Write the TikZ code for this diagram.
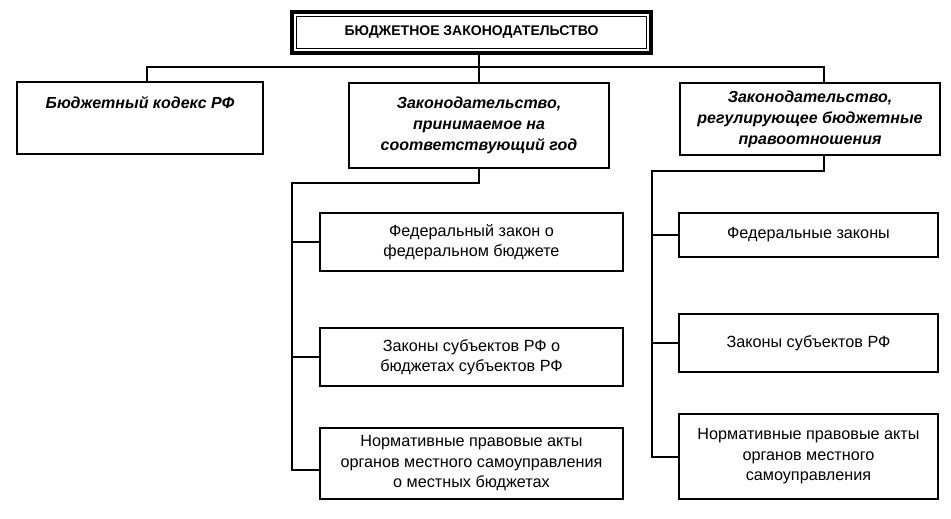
\documentclass[tikz,border=0pt]{standalone}
\usepackage{fontspec}
\setmainfont{Liberation Sans}
\usetikzlibrary{positioning}

\begin{document}
\begin{tikzpicture}[
    x=1pt, y=-1pt,
    box/.style={draw, line width=1.6pt, align=center, inner sep=0pt, font=\fontsize{16.2}{20.5}\selectfont},
    headbox/.style={box, font=\fontsize{16}{21}\selectfont\bfseries\itshape},
    link/.style={line width=1.3pt}
]
\useasboundingbox (0,0) rectangle (951,519);

% Top level
\node[draw, line width=4pt, minimum width=359pt, minimum height=41pt, font=\fontsize{14}{16}\selectfont\bfseries] (title) at (471.5,32.5) {БЮДЖЕТНОЕ ЗАКОНОДАТЕЛЬСТВО};
\draw[line width=1.2pt] ([shift={(6.5,6.5)}]title.north west) rectangle ([shift={(-6.5,-6.5)}]title.south east);

% Second level
\node[headbox, minimum width=246pt, text height=27pt, text depth=45pt] (b1) at (140,118) {Бюджетный кодекс РФ};
\node[headbox, minimum width=260pt, minimum height=85pt] (b2) at (479,125.5) {Законодательство,\\ принимаемое на\\ соответствующий год};
\node[headbox, minimum width=260pt, minimum height=72pt] (b3) at (810,119) {Законодательство,\\ регулирующее бюджетные\\ правоотношения};

% Acts for the year
\node[box, minimum width=303pt, minimum height=58pt] (l1) at (471.5,242) {Федеральный закон о\\ федеральном бюджете};
\node[box, minimum width=303pt, minimum height=58pt] (l2) at (471.5,357) {Законы субъектов РФ о\\ бюджетах субъектов РФ};
\node[box, minimum width=303pt, minimum height=71pt] (l3) at (471.5,463.5) {Нормативные правовые акты\\ органов местного самоуправления\\ о местных бюджетах};

% Acts regulating budget relations
\node[box, minimum width=259pt, minimum height=44pt] (r1) at (808.5,235) {Федеральные законы};
\node[box, minimum width=259pt, minimum height=58pt] (r2) at (808.5,343) {Законы субъектов РФ};
\node[box, minimum width=259pt, minimum height=85pt] (r3) at (808.5,456.5) {Нормативные правовые акты\\ органов местного\\ самоуправления};

% Connectors
\coordinate (busL) at (147,67);
\coordinate (busR) at (824,67);
\coordinate (ltop) at (292,183);
\coordinate (lbot) at (292,470);
\coordinate (rtop) at (652,171);
\coordinate (rbot) at (652,457);

\draw[link] (title.south -| b2.north) -- (b2.north);
\draw[link] (b1.north -| busL) -- (busL) -- (busR) -- (b3.north -| busR);

\draw[link] (b2.south) -- (b2.south |- ltop) -- (ltop) -- (lbot) -- (lbot -| l3.west);
\draw[link] (l1.west) -- (l1.west -| ltop);
\draw[link] (l2.west) -- (l2.west -| ltop);

\draw[link] (b3.south -| busR) -- (busR |- rtop) -- (rtop) -- (rbot) -- (rbot -| r3.west);
\draw[link] (r1.west) -- (r1.west -| rtop);
\draw[link] (r2.west) -- (r2.west -| rtop);
\end{tikzpicture}
\end{document}
